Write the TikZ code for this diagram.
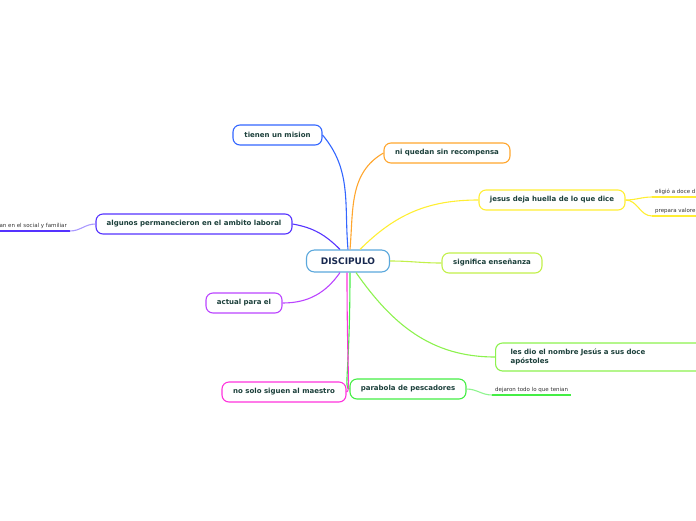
\documentclass[tikz,border=0pt]{standalone}
\usepackage{fontspec}
\setmainfont{DejaVu Sans}
\usetikzlibrary{positioning}
\definecolor{rootBorder}{HTML}{5BA8DC}
\definecolor{rootText}{HTML}{17284F}
\definecolor{nodeText}{HTML}{1B3F3A}
\definecolor{leafText}{HTML}{333333}
\definecolor{misionBlue}{HTML}{3366FF}
\definecolor{premioOrange}{HTML}{FFA62E}
\definecolor{huellaYellow}{HTML}{FFEE33}
\definecolor{ensenLime}{HTML}{C2F04A}
\definecolor{nombreGreen}{HTML}{8CF24E}
\definecolor{pescaGreen}{HTML}{44EE44}
\definecolor{maestroPink}{HTML}{FF33DD}
\definecolor{actualPurple}{HTML}{BB44FF}
\definecolor{laboralViolet}{HTML}{5533FF}

\begin{document}
\begin{tikzpicture}[
    x=1pt, y=1pt,
    topic/.style={
        draw, fill=white, rounded corners=7pt, line width=1.1pt,
        minimum height=20pt, inner xsep=10pt, inner ysep=2pt,
        text=nodeText, font=\fontsize{7}{8.5}\selectfont\bfseries
    },
    root/.style={
        topic, draw=rootBorder, rounded corners=8pt,
        minimum width=83pt, minimum height=22pt,
        text=rootText, font=\fontsize{9}{11}\selectfont\bfseries
    },
    leaf/.style={
        anchor=south west, inner xsep=3pt, inner ysep=2pt,
        text=leafText, font=\fontsize{5.5}{6.5}\selectfont
    },
    link/.style={line width=1.1pt},
    underline/.style={line width=1.4pt},
]
\useasboundingbox (0,0) rectangle (696,-520);
\begin{scope}
\clip (0,0) rectangle (696,-520);

% ============================================================
%  CENTRE
% ============================================================
\node[root] (disc) at (348,-261) {DISCIPULO};

% ============================================================
%  MAIN TOPICS
% ============================================================
\node[topic, draw=misionBlue, minimum width=89pt] (mision) at (277.5,-135)
    {tienen un mision};
\node[topic, draw=premioOrange, minimum width=126pt] (premio) at (447,-153)
    {ni quedan sin recompensa};
\node[topic, draw=huellaYellow, minimum width=146pt] (huella) at (552,-200)
    {jesus deja huella de lo que dice};
\node[topic, draw=ensenLime, minimum width=100pt] (ensen) at (492,-263)
    {significa enseñanza};
\node[topic, draw=nombreGreen, anchor=west, minimum width=215pt,
      minimum height=28pt, text width=185pt, align=left,
      inner xsep=15pt, font=\fontsize{7}{8.5}\selectfont\bfseries]
    (nombre) at (495,-357)
    {les dio el nombre Jesús a sus doce\\apóstoles};
\node[topic, draw=pescaGreen, minimum width=116pt] (pesca) at (408,-389)
    {parabola de pescadores};
\node[topic, draw=maestroPink, minimum width=124pt] (maestro) at (284,-392)
    {no solo siguen al maestro};
\node[topic, draw=actualPurple, minimum width=76pt] (actual) at (244,-303)
    {actual para el};
\node[topic, draw=laboralViolet, minimum width=196pt] (laboral) at (194,-224)
    {algunos permanecieron en el ambito laboral};

% ============================================================
%  LEAVES
% ============================================================
\node[leaf, anchor=south east] (social) at (70,-231)
    {an en el social y familiar};
\node[leaf] (eligio) at (652,-197) {eligió a doce d};
\node[leaf] (valores) at (652,-216) {prepara valore};
\node[leaf] (dejaron) at (492,-395) {dejaron todo lo que tenian};

\draw[underline, laboralViolet] (social.south east) -- ++(-72,0);
\draw[underline, huellaYellow] (eligio.south west) -- ++(50,0);
\draw[underline, huellaYellow] (valores.south west) -- ++(50,0);
\draw[underline, pescaGreen] (dejaron.south west) -- (dejaron.south east);

% ============================================================
%  CONNECTORS
% ============================================================
\draw[link, misionBlue] (disc.north) to[out=95, in=-50] (mision.east);
\draw[link, premioOrange] ([xshift=2pt]disc.north) to[out=85, in=210] (premio.west);
\draw[link, huellaYellow] ([xshift=12pt]disc.north) to[out=45, in=180] (huella.west);
\draw[link, ensenLime] (disc.east) to[out=0, in=180] (ensen.west);
\draw[link, nombreGreen] ([xshift=8pt]disc.south) to[out=-55, in=180] (nombre.west);
\draw[link, pescaGreen] ([xshift=2pt]disc.south)
    .. controls +(0,-100) and +(-6,0) .. (pesca.west);
\draw[link, maestroPink] ([xshift=-1pt]disc.south)
    .. controls +(0,-100) and +(4,0) .. (maestro.east);
\draw[link, actualPurple] ([xshift=-8pt]disc.south) to[out=-125, in=0] (actual.east);
\draw[link, laboralViolet] ([xshift=-8pt]disc.north) to[out=135, in=-10] (laboral.east);

\draw[link, laboralViolet!50] (laboral.west) to[out=180, in=0] (social.south east);
\draw[link, huellaYellow] (huella.east) to[out=0, in=180] (eligio.south west);
\draw[link, huellaYellow] (huella.east) to[out=0, in=180] (valores.south west);
\draw[link, pescaGreen!60] (pesca.east) to[out=0, in=180] (dejaron.south west);

\end{scope}
\end{tikzpicture}
\end{document}
